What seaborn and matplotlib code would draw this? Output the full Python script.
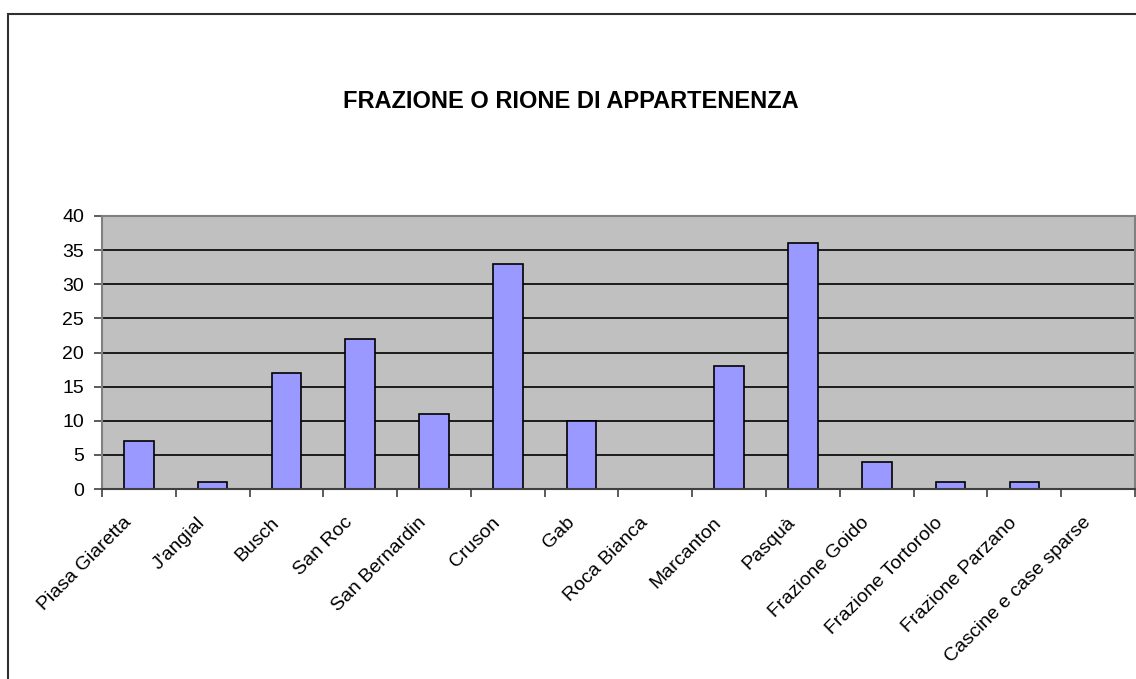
import matplotlib as mpl
mpl.use("Agg")
import matplotlib.pyplot as plt
import matplotlib.transforms as mtrans
import seaborn as sns
import numpy as np
from matplotlib.patches import Rectangle

categories = ["Piasa Giaretta", "J'angial", "Busch", "San Roc", "San Bernardin",
              "Cruson", "Gab", "Roca Bianca", "Marcanton", "Pasquà",
              "Frazione Goido", "Frazione Tortorolo", "Frazione Parzano",
              "Cascine e case sparse"]
counts = [7, 1, 17, 22, 11, 33, 10, 0, 18, 36, 4, 1, 1, 0]
y_ticks = [0, 5, 10, 15, 20, 25, 30, 35, 40]
title = "FRAZIONE O RIONE DI APPARTENENZA"

sns.set_style("white")
plt.rcParams['font.family'] = ['Liberation Sans', 'DejaVu Sans']
plt.rcParams['text.color'] = 'black'
plt.rcParams['xtick.color'] = 'black'
plt.rcParams['ytick.color'] = 'black'

fig = plt.figure(figsize=(11.36, 6.79), dpi=100)
ax = fig.add_axes([102 / 1136, 1 - 489 / 679, (1135 - 102) / 1136, (489 - 216) / 679])
ax.set_facecolor('#C0C0C0')

sns.barplot(x=categories, y=counts, color='#9999FF', edgecolor='black',
            linewidth=1.2, width=0.4, saturation=1, ax=ax)

ax.set_xlim(-0.5, len(categories) - 0.5)
ax.set_ylim(0, 40)
ax.set_yticks(y_ticks)
ax.set_yticklabels([str(t) for t in y_ticks], fontsize=14)
for t in y_ticks[1:-1]:
    ax.axhline(t, color='black', linewidth=1.2, zorder=0.5)

# excel style: category ticks sit between the bars
ax.set_xticks(np.arange(len(categories)))
ax.set_xticklabels(categories, rotation=45, ha='right', va='center',
                   rotation_mode='anchor', fontsize=14)
ax.tick_params(axis='x', which='major', length=0, pad=0)
shift = mtrans.ScaledTranslation(-0.10, -0.31, fig.dpi_scale_trans)
for lab in ax.get_xticklabels():
    lab.set_transform(lab.get_transform() + shift)
ax.set_xticks(np.arange(len(categories) + 1) - 0.5, minor=True)
ax.tick_params(axis='x', which='minor', length=6, width=1.2, color='#404040',
               direction='out', bottom=True)
ax.tick_params(axis='y', length=6, width=1.2, color='#404040', direction='out',
               left=True, pad=7)

for s in ax.spines.values():
    s.set_color('#808080')
    s.set_linewidth(1.5)
ax.spines['bottom'].set_color('#404040')
ax.set_xlabel('')
ax.set_ylabel('')

fig.text(571 / 1136, 1 - 101 / 679, title, ha='center', va='center',
         fontsize=17, fontweight='bold')

# outer chart border
fig.patches.append(Rectangle((8 / 1136, -0.1), 1.2, 1 - 14 / 679 + 0.1,
                             transform=fig.transFigure, fill=False,
                             edgecolor='#303030', linewidth=1.5))

fig.savefig('out.png', dpi=100)
